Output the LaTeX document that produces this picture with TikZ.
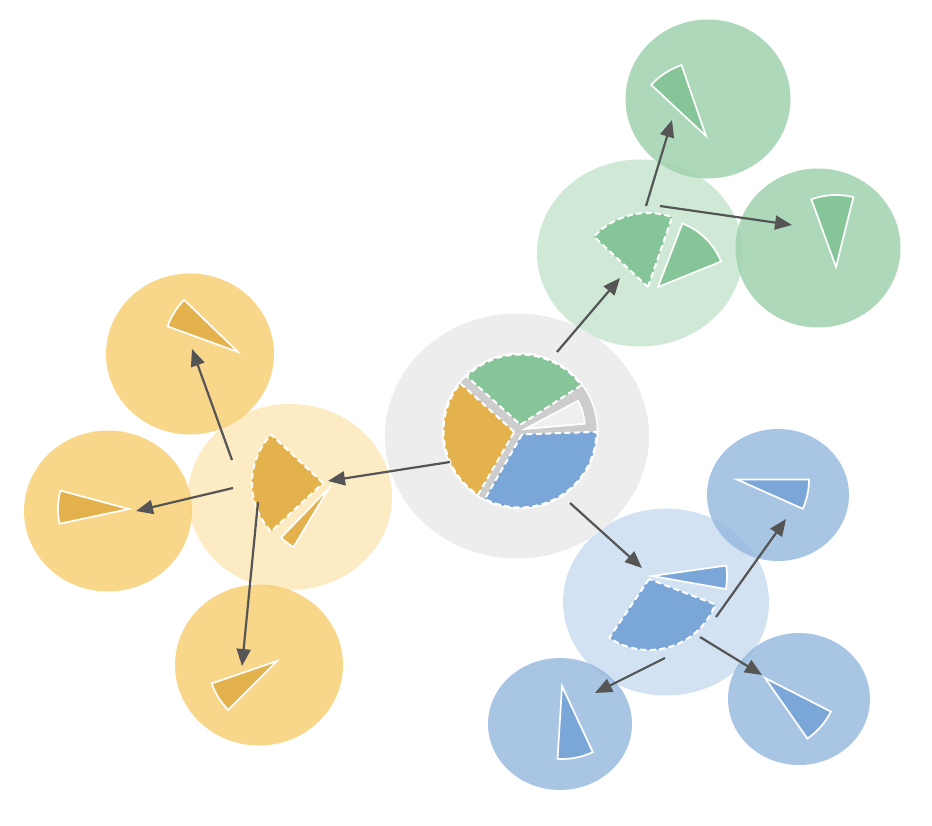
\documentclass[tikz,border=0pt]{standalone}
\usetikzlibrary{shapes.geometric,arrows.meta}
\definecolor{bgc}{HTML}{EDEDED}
\definecolor{pieGray}{HTML}{CDCDCD}
\definecolor{lightW}{HTML}{EFEFEF}
\definecolor{greenP}{HTML}{CFE9D6}
\definecolor{greenC}{HTML}{A0D1AE}
\definecolor{greenW}{HTML}{86C597}
\definecolor{orangeP}{HTML}{FCEBC3}
\definecolor{orangeC}{HTML}{F7CF75}
\definecolor{orangeW}{HTML}{E4B24C}
\definecolor{blueP}{HTML}{D3E2F2}
\definecolor{blueC}{HTML}{99BBDF}
\definecolor{blueW}{HTML}{7BA7D8}
\definecolor{arrowc}{HTML}{555555}
% simple sector: style, apex x, apex y, angle1, angle2, radius
\newcommand{\sector}[6]{%
  \path[#1] (#2,#3) -- ++({-(#4)}:#6) arc[start angle={-(#4)}, end angle={-(#5)}, radius=#6] -- cycle;}
% inset pie slice around (pieO): style, angle1, angle2, gap
\newcommand{\pslice}[4]{%
  \pgfmathsetmacro\pzh{((#3)-(#2))/2}%
  \pgfmathsetmacro\pzd{(#4)/sin(\pzh)}%
  \pgfmathsetmacro\pzdl{asin((#4)/76.5)}%
  \pgfmathsetmacro\pzb{-((#2)+(#3))/2}%
  \pgfmathsetmacro\pzs{-((#2)+\pzdl)}%
  \pgfmathsetmacro\pze{-((#3)-\pzdl)}%
  \path[#1] ([shift={(\pzb:\pzd)}]pieO) -- ([shift={(\pzs:76.5)}]pieO)
    arc[start angle=\pzs, end angle=\pze, radius=76.5] -- cycle;}
\begin{document}
\begin{tikzpicture}[x=1pt,y=-1pt,
  blob/.style={ellipse, inner sep=0pt, outer sep=0pt, draw=none},
  parent/.style={blob, minimum width=206pt, minimum height=187pt},
  child/.style={blob, fill opacity=0.85},
  dwedge/.style={draw=white, line width=2pt, dash pattern=on 6pt off 3.5pt, line join=round},
  swedge/.style={draw=white, line width=1.7pt, line join=miter},
  arr/.style={draw=arrowc, line width=2.2pt, -{Triangle[length=17pt,width=14pt]}}]
\useasboundingbox (0,0) rectangle (932,826);

% parent circles
\node[parent, fill=greenP] (gpar) at (640,253) {};
\node[parent, fill=orangeP, minimum width=204pt, minimum height=186pt] (opar) at (290,497) {};
\node[parent, fill=blueP] (bpar) at (666,602) {};

% child circles
\node[child, fill=greenC, minimum width=165pt, minimum height=159pt] (gtop) at (708,99) {};
\node[child, fill=greenC, minimum width=165pt, minimum height=159pt] (gright) at (818,248) {};
\node[child, fill=orangeC, minimum width=168pt, minimum height=161pt] (otop) at (190,354) {};
\node[child, fill=orangeC, minimum width=168pt, minimum height=161pt] (oleft) at (108,511) {};
\node[child, fill=orangeC, minimum width=168pt, minimum height=161pt] (obot) at (259,665) {};
\node[child, fill=blueC, minimum width=142pt, minimum height=132pt] (btr) at (778,495) {};
\node[child, fill=blueC, minimum width=142pt, minimum height=132pt] (bbr) at (799,699) {};
\node[child, fill=blueC, minimum width=144pt, minimum height=132pt] (bbl) at (560,724) {};

% centre circle
\node[blob, fill=bgc, minimum width=264pt, minimum height=245pt] (ctr) at (517,436) {};

% centre pie
\coordinate (pieO) at (520,431);
\path[fill=pieGray, draw=white, line width=1.5pt] (pieO) circle[radius=77.5];
\sector{fill=lightW, swedge}{525}{429}{5}{28}{60}
\pslice{fill=greenW, dwedge}{33}{138}{5}
\pslice{fill=orangeW, dwedge}{138}{240}{4.5}
\pslice{fill=blueW, dwedge}{240}{362}{3.5}

% green wedges
\sector{fill=greenW, dwedge}{648}{287}{71}{137}{74}
\sector{fill=greenW, swedge}{658}{287}{22}{69}{68}
\sector{fill=greenW, swedge}{706}{136}{109}{137}{75}
\sector{fill=greenW, swedge}{836}{267}{76}{110}{72}

% orange wedges
\sector{fill=orangeW, dwedge}{323}{483}{137}{223}{71}
\sector{fill=orangeW, swedge}{329}{488}{226}{239}{69}
\sector{fill=orangeW, swedge}{238}{352}{136}{160}{75}
\sector{fill=orangeW, swedge}{129}{509}{165}{192}{71}
\sector{fill=orangeW, swedge}{277}{661}{199}{225}{69}

% blue wedges
\sector{fill=blueW, dwedge}{649}{579}{236}{339}{71}
\sector{fill=blueW, swedge}{652}{576}{350}{368}{75}
\sector{fill=blueW, swedge}{737}{479.5}{-24}{0}{72}
\sector{fill=blueW, swedge}{765}{678}{-55}{-27}{74}
\sector{fill=blueW, swedge}{562}{686}{266.5}{295}{73}

% arrow end points
\coordinate (c2o) at (450,462);   \coordinate (o-in) at (328,481);
\coordinate (c2g) at (557,352);   \coordinate (g-in) at (620,278);
\coordinate (c2b) at (570,503);   \coordinate (b-in) at (642,568);
\coordinate (g2t) at (646,206);   \coordinate (gt-in) at (672,120);
\coordinate (g2r) at (660,206);   \coordinate (gr-in) at (792,225);
\coordinate (o2t) at (232,460);   \coordinate (ot-in) at (192,349);
\coordinate (o2l) at (233,488);   \coordinate (ol-in) at (136,511);
\coordinate (o2b) at (258,502);   \coordinate (ob-in) at (242,666);
\coordinate (b2tr) at (716,617);  \coordinate (btr-in) at (786,519);
\coordinate (b2br) at (700,637);  \coordinate (bbr-in) at (762,675);
\coordinate (b2bl) at (665,658);  \coordinate (bbl-in) at (595,693);

% arrows
\draw[arr] (c2o) -- (o-in);
\draw[arr] (c2g) -- (g-in);
\draw[arr] (c2b) -- (b-in);
\draw[arr] (g2t) -- (gt-in);
\draw[arr] (g2r) -- (gr-in);
\draw[arr] (o2t) -- (ot-in);
\draw[arr] (o2l) -- (ol-in);
\draw[arr] (o2b) -- (ob-in);
\draw[arr] (b2tr) -- (btr-in);
\draw[arr] (b2br) -- (bbr-in);
\draw[arr] (b2bl) -- (bbl-in);
\end{tikzpicture}
\end{document}
